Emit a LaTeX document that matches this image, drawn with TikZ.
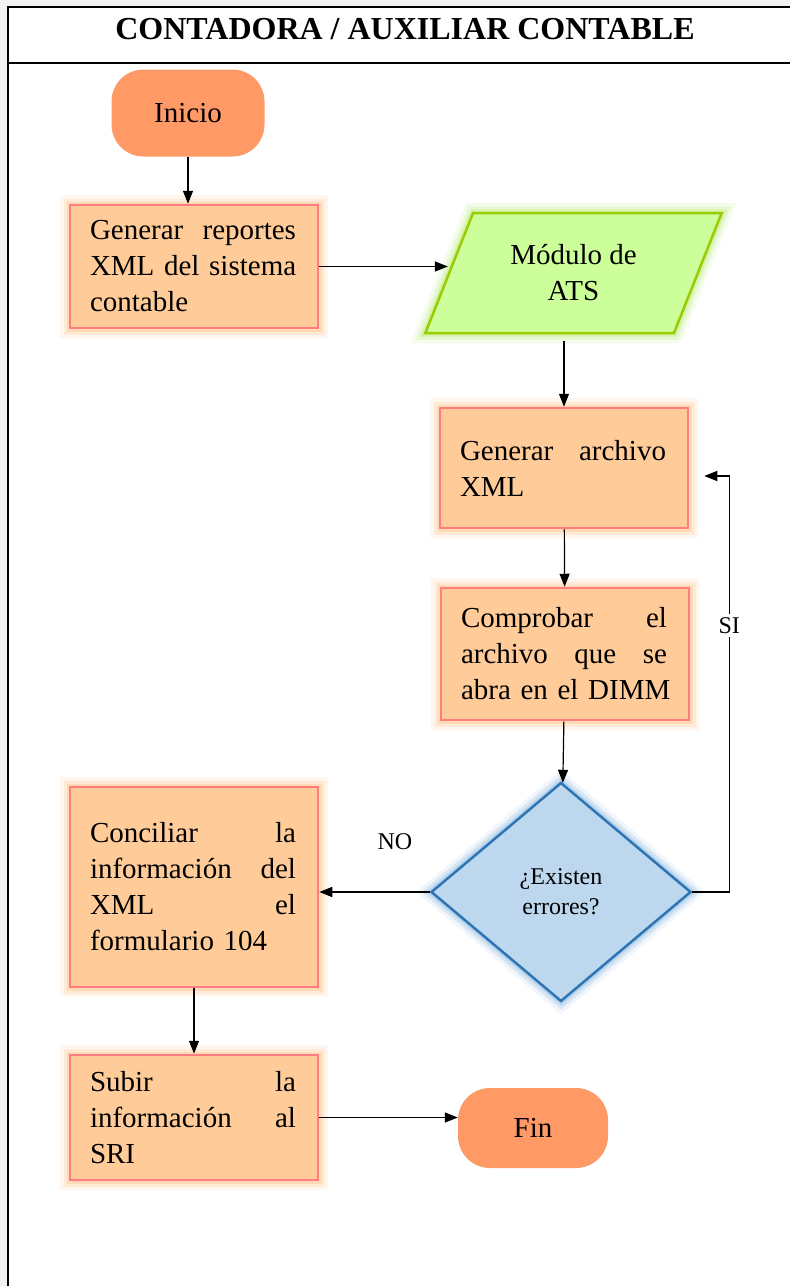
\documentclass[tikz,border=0pt]{standalone}
\usepackage{fontspec}
\setmainfont{Liberation Serif}
\usetikzlibrary{arrows.meta,positioning,shapes.geometric}
\definecolor{termorange}{HTML}{FF9966}
\definecolor{procfill}{HTML}{FFCC99}
\definecolor{procline}{HTML}{FF7C80}
\definecolor{iofill}{HTML}{CCFF99}
\definecolor{ioline}{HTML}{99CC00}
\definecolor{ioglow}{HTML}{C5EE8A}
\definecolor{decfill}{HTML}{BDD7EE}
\definecolor{decline}{HTML}{2E75B6}
\definecolor{decglow}{HTML}{9DC3E6}
\newcommand{\jl}[1]{\leavevmode\hbox to 206pt{#1}}

\begin{document}
\begin{tikzpicture}[
  x=1pt, y=-1pt,
  txt/.style={font=\fontsize{29}{36}\selectfont},
  glow/.style={preaction={draw=#1, line width=20pt, opacity=.15}, preaction={draw=#1, line width=13pt, opacity=.3}, preaction={draw=#1, line width=7pt, opacity=.5}},
  term/.style={txt, fill=termorange, rounded corners=32pt, inner sep=0pt},
  proc/.style={txt, draw=procline, line width=2.5pt, fill=procfill, glow=procfill, text width=208pt, inner xsep=20pt, align=left},
  io/.style={txt, trapezium, trapezium left angle=63.4, trapezium right angle=116.6, trapezium stretches=true, draw=ioline, line width=2.5pt, fill=iofill, glow=ioglow, align=center},
  dec/.style={diamond, aspect=1.19, draw=decline, line width=2.5pt, fill=decfill, glow=decglow, font=\fontsize{24}{30}\selectfont, align=center, inner sep=0pt},
  lbl/.style={font=\fontsize{24}{30}\selectfont},
  arr/.style={-{Triangle[length=13pt, width=10pt]}, line width=1.2pt}
]
\useasboundingbox (0,0) rectangle (790,1286);
\fill[black!5] (0,0) rectangle (790,1286);
\fill[white] (8,7) rectangle (800,1300);
\draw[line width=2pt] (8,1300) -- (8,7) -- (800,7);
\draw[line width=2pt] (8,63) -- (800,63);

\node[txt] (title) at (405,29) {\bfseries\fontsize{32}{36}\selectfont CONTADORA / AUXILIAR CONTABLE};

\node[term, minimum width=153pt, minimum height=87pt] (inicio) at (188,113) {Inicio};
\node[proc, minimum height=123pt] (reportes) at (194,266.5) {\jl{Generar\hfill reportes}\\\jl{XML del sistema}\\contable};
\node[io, minimum width=297pt, minimum height=120pt] (ats) at (573.5,273) {Módulo de\\ATS};
\node[proc, minimum height=120pt] (xml) at (564,468) {\jl{Generar\hfill archivo}\\XML};
\node[proc, minimum height=132pt] (check) at (565,654) {\jl{Comprobar\hfill el}\\\jl{archivo\hfill que\hfill se}\\\mbox{abra en el DIMM}};
\node[dec, minimum width=260pt, minimum height=219pt] (errores) at (561,892) {¿Existen\\errores?};
\node[proc, minimum height=200pt] (conc) at (194,887) {\jl{Conciliar\hfill la}\\\jl{información\hfill del}\\\jl{XML\hfill el}\\formulario 104};
\node[proc, minimum height=125pt] (subir) at (194,1117.5) {\jl{Subir\hfill la}\\\jl{información\hfill al}\\SRI};
\node[term, minimum width=150pt, minimum height=80pt] (fin) at (533,1128) {Fin};
\node[lbl] (no) at (395,842) {NO};

\draw[arr] (inicio) -- (inicio |- reportes.north);
\draw[arr] (reportes.east) -- (reportes.east -| ats.west);
\draw[arr] ([yshift=-7pt]xml.north |- ats.south) -- (xml.north);
\draw[arr] (xml) -- (check);
\draw[arr] (check) -- (errores);
\draw[arr] (errores.west) -- (errores.west -| conc.east);
\draw[arr] (errores.east) -- ++(37,0) |- node[pos=.32, lbl, fill=white] (si) {SI} ([shift={(15,8)}]xml.east);
\draw[arr] (conc) -- (subir);
\draw[arr] (subir.east) -- (subir.east -| fin.west);
\end{tikzpicture}
\end{document}
